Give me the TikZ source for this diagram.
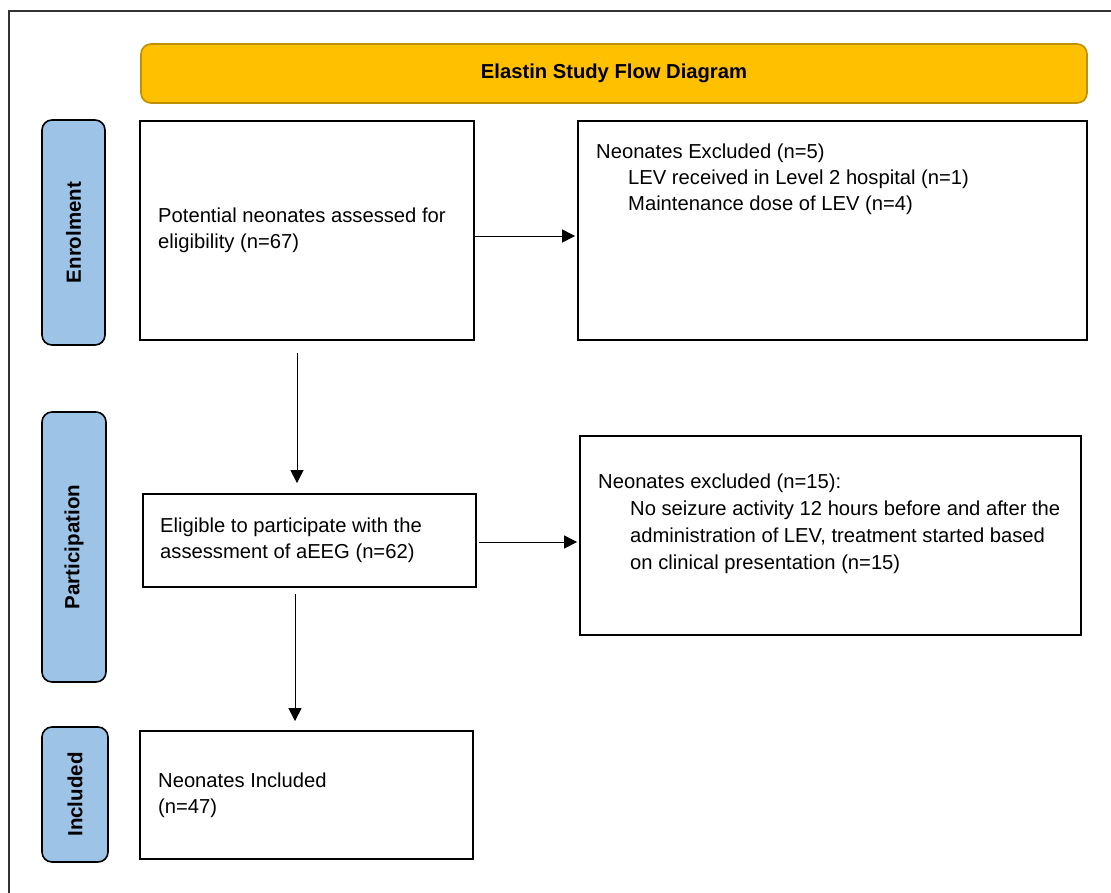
\documentclass[tikz,border=0pt]{standalone}
\usepackage{fontspec}
\setmainfont{Liberation Sans}
\usetikzlibrary{arrows.meta,calc}
\definecolor{titlefill}{HTML}{FFC000}
\definecolor{titledraw}{HTML}{BF9000}
\definecolor{sidefill}{HTML}{9DC3E6}
\definecolor{framecol}{HTML}{333333}
\tikzset{
  mainbox/.style={draw=black, line width=1.8pt, rectangle, inner sep=0pt},
  sidebox/.style={draw=black, line width=1.6pt, fill=sidefill, rounded corners=10pt, inner sep=0pt},
  sidelabel/.style={font=\fontsize{20.5}{24}\selectfont\bfseries, rotate=90, inner sep=0pt},
  bodytext/.style={font=\fontsize{20.2}{26}\selectfont, align=left, inner sep=0pt},
  arr/.style={line width=1pt, -{Triangle[length=13pt,width=13pt]}},
}
\begin{document}
\begin{tikzpicture}[x=1pt,y=-1pt]
\useasboundingbox (0,0) rectangle (1111,892);
\fill[white] (0,0) rectangle (1111,892);
% outer frame
\draw[framecol, line width=1.3pt] (9,11) rectangle (1125,905);
% title
\node[draw=titledraw, line width=1.6pt, fill=titlefill, rounded corners=10pt,
      minimum width=946pt, minimum height=59pt, inner sep=0pt,
      font=\fontsize{20.2}{24}\selectfont\bfseries] (title) at (614,73.5) {Elastin Study Flow Diagram};
% side boxes
\node[sidebox, minimum width=63pt, minimum height=225pt] (s1) at (73.5,232.5) {};
\node[sidelabel] (s1t) at (s1.center) {Enrolment};
\node[sidebox, minimum width=64pt, minimum height=270pt] (s2) at (74,547) {};
\node[sidelabel] (s2t) at (s2.center) {Participation};
\node[sidebox, minimum width=66pt, minimum height=135pt] (s3) at (75,794.5) {};
\node[sidelabel] (s3t) at (s3.center) {Included};
% main boxes
\node[mainbox, minimum width=334pt, minimum height=219pt] (b1) at (307,230.5) {};
\node[mainbox, minimum width=509pt, minimum height=219pt] (b2) at (832.5,230.5) {};
\node[mainbox, minimum width=333pt, minimum height=93pt] (b3) at (309.5,540.5) {};
\node[mainbox, minimum width=501pt, minimum height=199pt] (b4) at (830.5,535.5) {};
\node[mainbox, minimum width=333pt, minimum height=128pt] (b5) at (306.5,795) {};
% texts
\node[bodytext, anchor=west] (t1) at (158,230) {Potential neonates assessed for\\eligibility (n=67)};
\node[bodytext, anchor=north west] (t2) at (596,144) {Neonates Excluded (n=5)\\\hspace*{32pt}LEV received in Level 2 hospital (n=1)\\\hspace*{32pt}Maintenance dose of LEV (n=4)};
\node[bodytext, anchor=west] (t3) at (160,540) {Eligible to participate with the\\assessment of aEEG (n=62)};
\node[bodytext, font=\fontsize{20.2}{27}\selectfont, anchor=north west] (t4) at (598,474) {Neonates excluded (n=15):\\\hspace*{32pt}No seizure activity 12 hours before and after the\\\hspace*{32pt}administration of LEV, treatment started based\\\hspace*{32pt}on clinical presentation (n=15)};
\node[bodytext, anchor=west] (t5) at (158,795) {Neonates Included\\(n=47)};
% connectors
\coordinate (ax1) at (297,0);
\coordinate (ax2) at (295,0);
\coordinate (ay1) at (0,236);
\coordinate (ay2) at (0,542);
\draw[arr, shorten >=2pt] (b1.east |- ay1) -- (b2.west |- ay1);
\draw[arr, shorten <=2pt, shorten >=2pt] (b3.east |- ay2) -- (b4.west |- ay2);
\draw[arr, shorten <=12pt, shorten >=10pt] (b1.south -| ax1) -- (b3.north -| ax1);
\draw[arr, shorten <=6pt, shorten >=9pt] (b3.south -| ax2) -- (b5.north -| ax2);
\end{tikzpicture}
\end{document}
